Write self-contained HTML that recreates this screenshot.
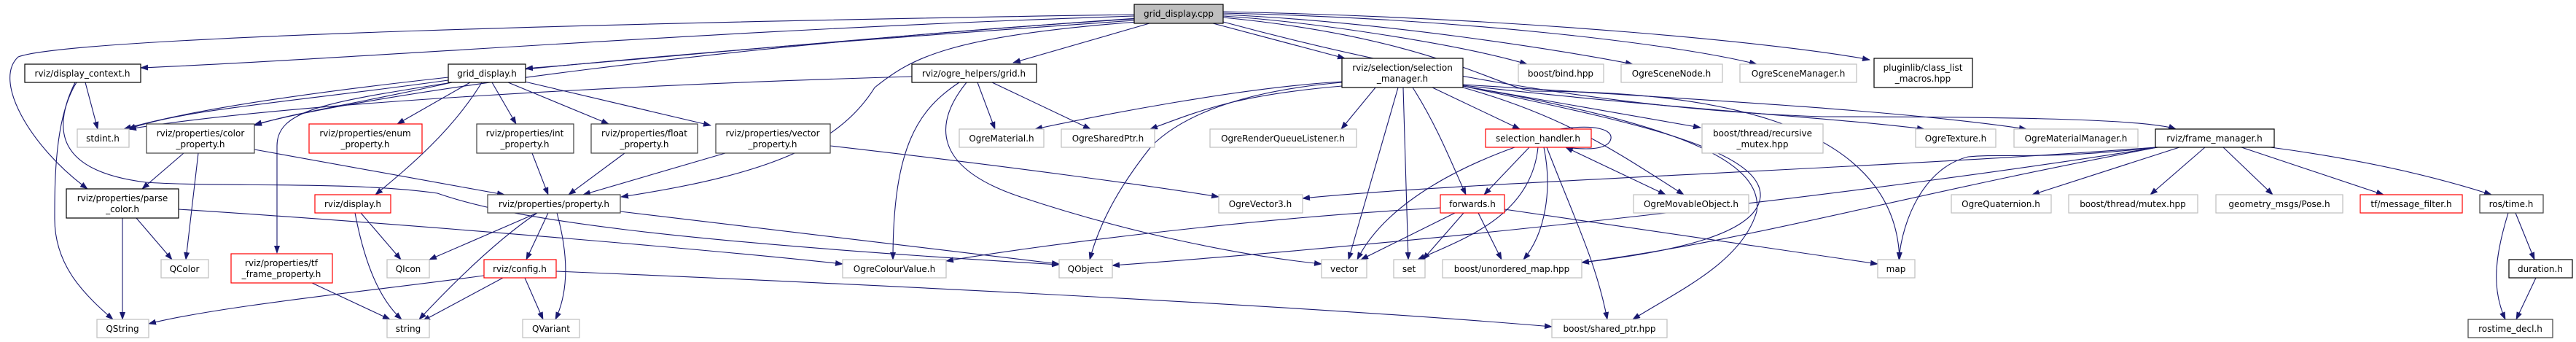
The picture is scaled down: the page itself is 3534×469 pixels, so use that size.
<!DOCTYPE html>
<html><head><meta charset="utf-8"><style>
html,body{margin:0;padding:0;background:#fff;}
svg{display:block;}
text{font-family:"DejaVu Sans","Liberation Sans",sans-serif;font-size:12px;fill:#000;text-anchor:middle;}
.e{fill:none;stroke:#191970;stroke-width:1.1;marker-end:url(#a);}
.b{fill:#fff;stroke:#000;stroke-width:1.2;}
.d{fill:#fff;stroke:#404040;stroke-width:1.2;}
.g{fill:#fff;stroke:#bfbfbf;stroke-width:1.2;}
.r{fill:#fff;stroke:#ff0000;stroke-width:1.2;}
</style></head><body>
<svg width="3534" height="469" viewBox="0 0 3534 469" xmlns="http://www.w3.org/2000/svg">
<defs><marker id="a" markerWidth="11" markerHeight="8" refX="10" refY="4" orient="auto" markerUnits="userSpaceOnUse"><path d="M0,0 L11,4 L0,8 z" fill="#191970"/></marker>
<marker id="s" markerWidth="11" markerHeight="8" refX="1" refY="4" orient="auto" markerUnits="userSpaceOnUse"><path d="M11,0 L0,4 L11,8 z" fill="#191970"/></marker></defs>
<!-- edges -->
<path class="e" d="M1556,22 C1000,40 500,80 193,93"/>
<path class="e" d="M1556,20 C900,30 100,50 25,78 C-10,110 40,200 120,259"/>
<path class="e" d="M1560,25 C1200,50 900,80 721,94"/>
<path class="e" d="M1577,32 L1390,86"/>
<path class="e" d="M1664,32 L1845,80"/>
<path class="e" d="M1678,22 C1800,30 2000,60 2095,88"/>
<path class="e" d="M1678,20 C1900,30 2150,70 2240,88"/>
<path class="e" d="M1678,18 C2000,25 2300,60 2410,88"/>
<path class="e" d="M1678,16 C2100,25 2450,60 2565,82"/>
<path class="e" d="M1556,28 C1100,60 400,110 170,177"/>
<path class="e" d="M1556,26 C1000,60 500,130 349,171"/>
<path class="e" d="M1560,30 C1300,50 1250,80 1200,120 C1150,200 1050,240 852,270"/>
<path class="e" d="M1678,30 C1900,90 2200,150 2500,160 C2800,160 2950,165 2985,177"/>
<path class="e" d="M1678,24 C1950,50 2050,115 2100,125 C2300,125 2600,150 2606,356"/>
<path class="e" d="M615,110 C400,140 250,150 176,177"/>
<path class="e" d="M620,113 C450,140 380,150 380,200 L380,347"/>
<path class="e" d="M620,113 C500,140 400,155 349,172"/>
<path class="e" d="M645,113 L545,170"/>
<path class="e" d="M661,113 C620,180 560,230 515,267"/>
<path class="e" d="M675,113 L708,170"/>
<path class="e" d="M697,113 L835,170"/>
<path class="e" d="M720,112 L975,172"/>
<path class="e" d="M117,113 L134,177"/>
<path class="e" d="M105,113 C75,160 75,250 75,300 C75,360 110,400 155,438"/>
<path class="e" d="M103,113 C70,180 80,235 200,250 C300,257 480,248 600,265 C700,300 900,330 1453,363"/>
<path class="e" d="M349,205 L692,267"/>
<path class="e" d="M168,299 L168,438"/>
<path class="e" d="M187,299 L236,356"/>
<path class="e" d="M245,287 C600,310 1000,345 1156,362"/>
<path class="e" d="M252,210 L195,259"/>
<path class="e" d="M272,210 L255,356"/>
<path class="e" d="M495,292 L550,356"/>
<path class="e" d="M487,292 C500,360 520,410 551,438"/>
<path class="e" d="M428,388 L535,438"/>
<path class="e" d="M730,210 L752,267"/>
<path class="e" d="M857,210 L780,267"/>
<path class="e" d="M995,210 L800,267"/>
<path class="e" d="M1139,200 C1400,230 1600,258 1672,270"/>
<path class="e" d="M737,292 L589,356"/>
<path class="e" d="M737,292 C680,330 620,390 575,438"/>
<path class="e" d="M752,292 L722,356"/>
<path class="e" d="M764,292 C780,350 780,400 762,438"/>
<path class="e" d="M851,290 C1100,320 1300,345 1453,362"/>
<path class="e" d="M720,381 L745,438"/>
<path class="e" d="M664,378 C500,400 300,420 204,444"/>
<path class="e" d="M690,381 L580,440"/>
<path class="e" d="M763,372 C1200,390 1800,420 2129,448"/>
<path class="e" d="M1251,105 C900,115 400,140 177,177"/>
<path class="e" d="M1341,113 L1365,177"/>
<path class="e" d="M1361,113 L1496,177"/>
<path class="e" d="M1316,113 C1260,150 1225,200 1225,356"/>
<path class="e" d="M1326,113 C1280,170 1280,230 1400,270 C1550,320 1700,350 1813,362"/>
<path class="e" d="M1841,112 C1700,120 1500,160 1420,177"/>
<path class="e" d="M1841,118 C1700,130 1650,150 1578,177"/>
<path class="e" d="M1841,113 C1700,125 1620,160 1580,200 C1540,250 1510,300 1495,356"/>
<path class="e" d="M1887,120 L1840,177"/>
<path class="e" d="M1918,120 L1850,356"/>
<path class="e" d="M1925,120 L1932,356"/>
<path class="e" d="M1938,120 C1970,170 1990,220 2011,267"/>
<path class="e" d="M1965,120 L2085,177"/>
<path class="e" d="M2007,120 C2150,160 2220,210 2310,267"/>
<path class="e" d="M2007,118 L2333,175"/>
<path class="e" d="M2007,117 C2300,150 2500,160 2640,177"/>
<path class="e" d="M2007,116 C2300,135 2600,150 2780,177"/>
<path class="e" d="M2007,118 C2200,160 2420,200 2415,270 C2410,320 2300,345 2170,360"/>
<path class="e" d="M2007,118 C2300,170 2420,220 2410,290 C2390,360 2300,400 2240,438"/>
<path class="e" d="M2140,177 C2190,170 2212,178 2210,190 C2207,205 2180,206 2148,202"/>
<path class="e" d="M2078,202 C2000,230 1900,280 1862,356"/>
<path class="e" d="M2098,202 L2036,267"/>
<path class="e" d="M2110,202 C2100,300 2000,330 1945,356"/>
<path class="e" d="M2118,202 C2130,260 2120,320 2090,356"/>
<path class="e" d="M2122,202 C2160,300 2190,360 2205,438"/>
<path class="e" d="M2148,202 L2285,267" marker-start="url(#s)"/>
<path class="e" d="M1976,285 C1700,300 1400,340 1298,358"/>
<path class="e" d="M1996,292 L1867,356"/>
<path class="e" d="M2008,292 L1952,356"/>
<path class="e" d="M2028,292 L2060,356"/>
<path class="e" d="M2064,287 C2300,320 2450,345 2576,362"/>
<path class="e" d="M2957,202 C2600,230 2000,250 1787,272"/>
<path class="e" d="M2960,202 C2800,220 2750,210 2700,215 C2640,230 2610,300 2605,356"/>
<path class="e" d="M2960,202 C2600,260 2000,330 1526,364"/>
<path class="e" d="M2960,202 C2600,270 2400,330 2170,360"/>
<path class="e" d="M2990,202 L2788,267"/>
<path class="e" d="M3025,202 L2950,267"/>
<path class="e" d="M3050,202 L3118,267"/>
<path class="e" d="M3075,202 L3270,267"/>
<path class="e" d="M3115,202 C3250,220 3350,245 3418,267"/>
<path class="e" d="M3451,292 L3477,356"/>
<path class="e" d="M3441,292 C3420,360 3420,400 3437,438"/>
<path class="e" d="M3479,381 L3452,438"/>
<!-- nodes -->
<rect x="1556" y="6" width="122" height="26" fill="#bfbfbf" stroke="#000" stroke-width="1.2"/><text x="1617" y="23">grid_display.cpp</text>
<rect class="b" x="34" y="88" width="159" height="25"/><text x="113" y="105">rviz/display_context.h</text>
<rect class="b" x="615" y="88" width="106" height="25"/><text x="668" y="105">grid_display.h</text>
<rect class="b" x="1251" y="88" width="171" height="25"/><text x="1336" y="105">rviz/ogre_helpers/grid.h</text>
<rect class="b" x="1841" y="80" width="166" height="40"/><text x="1924" y="97">rviz/selection/selection</text><text x="1924" y="112">_manager.h</text>
<rect class="g" x="2083" y="88" width="117" height="25"/><text x="2141" y="105">boost/bind.hpp</text>
<rect class="g" x="2224" y="88" width="139" height="25"/><text x="2293" y="105">OgreSceneNode.h</text>
<rect class="g" x="2387" y="88" width="160" height="25"/><text x="2467" y="105">OgreSceneManager.h</text>
<rect class="b" x="2571" y="80" width="135" height="40"/><text x="2638" y="97">pluginlib/class_list</text><text x="2638" y="112">_macros.hpp</text>
<rect class="g" x="106" y="177" width="71" height="25"/><text x="141" y="194">stdint.h</text>
<rect class="d" x="201" y="170" width="148" height="40"/><text x="275" y="187">rviz/properties/color</text><text x="275" y="202">_property.h</text>
<rect class="r" x="424" y="170" width="155" height="40"/><text x="501" y="187">rviz/properties/enum</text><text x="501" y="202">_property.h</text>
<rect class="d" x="654" y="170" width="133" height="40"/><text x="720" y="187">rviz/properties/int</text><text x="720" y="202">_property.h</text>
<rect class="d" x="811" y="170" width="146" height="40"/><text x="884" y="187">rviz/properties/float</text><text x="884" y="202">_property.h</text>
<rect class="d" x="982" y="170" width="157" height="40"/><text x="1060" y="187">rviz/properties/vector</text><text x="1060" y="202">_property.h</text>
<rect class="g" x="1316" y="177" width="116" height="25"/><text x="1374" y="194">OgreMaterial.h</text>
<rect class="g" x="1456" y="177" width="128" height="25"/><text x="1520" y="194">OgreSharedPtr.h</text>
<rect class="g" x="1660" y="177" width="201" height="25"/><text x="1760" y="194">OgreRenderQueueListener.h</text>
<rect class="r" x="2038" y="177" width="145" height="25"/><text x="2110" y="194">selection_handler.h</text>
<rect class="g" x="2335" y="170" width="166" height="40"/><text x="2418" y="187">boost/thread/recursive</text><text x="2418" y="202">_mutex.hpp</text>
<rect class="g" x="2628" y="177" width="110" height="25"/><text x="2683" y="194">OgreTexture.h</text>
<rect class="g" x="2763" y="177" width="170" height="25"/><text x="2848" y="194">OgreMaterialManager.h</text>
<rect class="b" x="2957" y="177" width="163" height="25"/><text x="3038" y="194">rviz/frame_manager.h</text>
<rect class="b" x="91" y="259" width="154" height="40"/><text x="168" y="276">rviz/properties/parse</text><text x="168" y="291">_color.h</text>
<rect class="r" x="432" y="267" width="104" height="25"/><text x="484" y="284">rviz/display.h</text>
<rect class="d" x="669" y="267" width="182" height="25"/><text x="760" y="284">rviz/properties/property.h</text>
<rect class="g" x="1672" y="267" width="115" height="25"/><text x="1729" y="284">OgreVector3.h</text>
<rect class="r" x="1976" y="267" width="88" height="25"/><text x="2020" y="284">forwards.h</text>
<rect class="g" x="2241" y="267" width="158" height="25"/><text x="2320" y="284">OgreMovableObject.h</text>
<rect class="g" x="2677" y="267" width="137" height="25"/><text x="2745" y="284">OgreQuaternion.h</text>
<rect class="g" x="2838" y="267" width="177" height="25"/><text x="2926" y="284">boost/thread/mutex.hpp</text>
<rect class="g" x="3040" y="267" width="174" height="25"/><text x="3127" y="284">geometry_msgs/Pose.h</text>
<rect class="r" x="3238" y="267" width="140" height="25"/><text x="3308" y="284">tf/message_filter.h</text>
<rect class="d" x="3402" y="267" width="87" height="25"/><text x="3445" y="284">ros/time.h</text>
<rect class="g" x="221" y="356" width="65" height="25"/><text x="253" y="373">QColor</text>
<rect class="r" x="317" y="348" width="139" height="40"/><text x="386" y="365">rviz/properties/tf</text><text x="386" y="380">_frame_property.h</text>
<rect class="g" x="531" y="356" width="58" height="25"/><text x="560" y="373">QIcon</text>
<rect class="r" x="664" y="356" width="99" height="25"/><text x="713" y="373">rviz/config.h</text>
<rect class="g" x="1156" y="356" width="142" height="25"/><text x="1227" y="373">OgreColourValue.h</text>
<rect class="g" x="1453" y="356" width="73" height="25"/><text x="1489" y="373">QObject</text>
<rect class="g" x="1813" y="356" width="62" height="25"/><text x="1844" y="373">vector</text>
<rect class="g" x="1912" y="356" width="43" height="25"/><text x="1933" y="373">set</text>
<rect class="g" x="1979" y="356" width="191" height="25"/><text x="2074" y="373">boost/unordered_map.hpp</text>
<rect class="g" x="2576" y="356" width="51" height="25"/><text x="2601" y="373">map</text>
<rect class="b" x="3442" y="356" width="87" height="25"/><text x="3485" y="373">duration.h</text>
<rect class="g" x="133" y="438" width="71" height="25"/><text x="168" y="455">QString</text>
<rect class="g" x="531" y="438" width="58" height="25"/><text x="560" y="455">string</text>
<rect class="g" x="717" y="438" width="78" height="25"/><text x="756" y="455">QVariant</text>
<rect class="g" x="2129" y="438" width="158" height="25"/><text x="2208" y="455">boost/shared_ptr.hpp</text>
<rect class="d" x="3386" y="438" width="116" height="25"/><text x="3444" y="455">rostime_decl.h</text>
</svg>
</body></html>
